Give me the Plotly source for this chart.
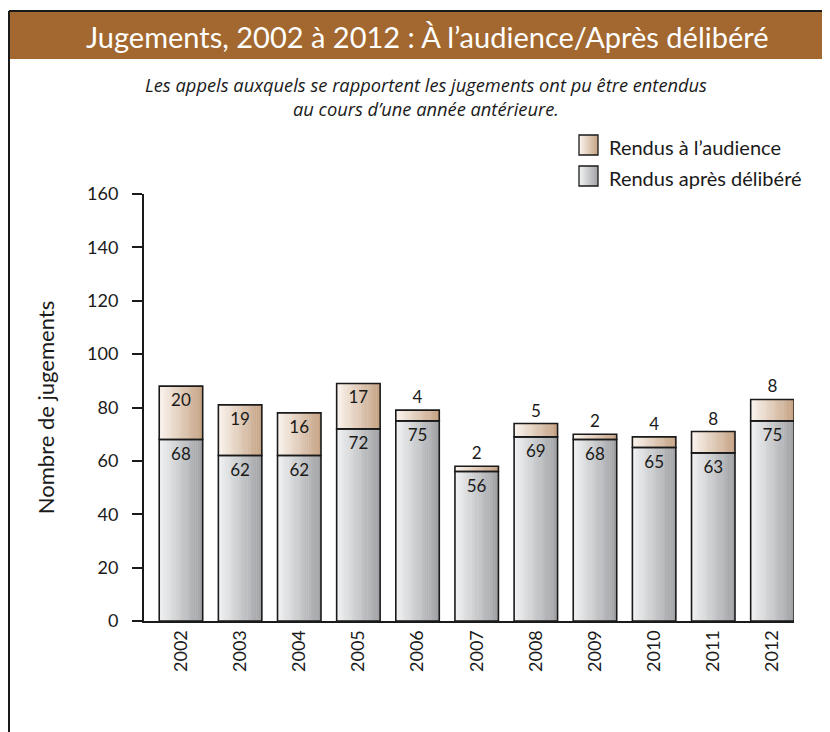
import plotly.graph_objects as go

# ---------------- data ----------------
years = ["2002", "2003", "2004", "2005", "2006", "2007", "2008", "2009", "2010", "2011", "2012"]
apres_delibere = [68, 62, 62, 72, 75, 56, 69, 68, 65, 63, 75]
a_l_audience = [20, 19, 16, 17, 4, 2, 5, 2, 4, 8, 8]
series_names = ["Rendus à l’audience", "Rendus après délibéré"]
y_ticks = [0, 20, 40, 60, 80, 100, 120, 140, 160]
title_text = "Jugements, 2002 à 2012 : À l’audience/Après délibéré"
subtitle_lines = ["Les appels auxquels se rapportent les jugements ont pu être entendus",
                  "au cours d’une année antérieure."]
y_title = "Nombre de jugements"

# ---------------- style ----------------
FONT = "Lato"
INK = "#1a1a1a"
BROWN = "#a2682f"
GRAY0, GRAY1 = (242, 243, 244), (158, 160, 163)
TAN0, TAN1 = (251, 245, 239), (196, 161, 130)
BW = 0.735
NSTRIP = 24

OFF = 8  # page body margin
W, H = 830, 732
# target plot area in page pixels: x 144..794, y 194..621
L = 144 - OFF
T = 194 - OFF
R = W - (794 - OFF)
B = H - (621 - OFF)
PW, PH = W - L - R, H - T - B


def px_x(px):
    return (px - OFF - L) / PW


def px_y(py):
    return (H - B - (py - OFF)) / PH


def lerp(c0, c1, t):
    return "rgb(%d,%d,%d)" % tuple(round(a + (b - a) * t) for a, b in zip(c0, c1))


fig = go.Figure()

# gradient fill made of thin strips
for values, base, c0, c1 in [(apres_delibere, None, GRAY0, GRAY1),
                             (a_l_audience, apres_delibere, TAN0, TAN1)]:
    for k in range(NSTRIP):
        t = (k + 0.5) / NSTRIP
        w = BW / NSTRIP * (1.2 if k < NSTRIP - 1 else 1.0)
        fig.add_bar(x=years, y=values, base=base, width=w,
                    offset=-BW / 2 + k * BW / NSTRIP,
                    marker=dict(color=lerp(c0, c1, t), line=dict(width=0)),
                    showlegend=False, hoverinfo="skip")

# outlines + labels
fig.add_bar(x=years, y=apres_delibere, width=BW, offset=-BW / 2,
            name=series_names[1],
            marker=dict(color="rgba(0,0,0,0)", line=dict(color=INK, width=1.6)),
            text=[str(v) for v in apres_delibere], textposition="inside",
            insidetextanchor="end", textangle=0,
            textfont=dict(family=FONT, size=17, color=INK),
            showlegend=False, cliponaxis=False)
fig.add_bar(x=years, y=a_l_audience, base=apres_delibere, width=BW, offset=-BW / 2,
            name=series_names[0],
            marker=dict(color="rgba(0,0,0,0)", line=dict(color=INK, width=1.6)),
            text=[str(v) for v in a_l_audience],
            textposition=["inside" if v >= 10 else "outside" for v in a_l_audience],
            insidetextanchor="end", textangle=0,
            textfont=dict(family=FONT, size=17, color=INK),
            showlegend=False, cliponaxis=False)

shapes = []
annotations = []

# title band
shapes.append(dict(type="rect", xref="paper", yref="paper",
                   x0=px_x(9), x1=px_x(845), y0=px_y(59), y1=px_y(12),
                   fillcolor=BROWN, line=dict(width=0), layer="below"))
# frame lines
shapes.append(dict(type="line", xref="paper", yref="paper",
                   x0=px_x(9), x1=px_x(845), y0=px_y(11), y1=px_y(11),
                   line=dict(color=INK, width=2)))
shapes.append(dict(type="line", xref="paper", yref="paper",
                   x0=px_x(9), x1=px_x(9), y0=px_y(745), y1=px_y(11),
                   line=dict(color=INK, width=2)))

annotations.append(dict(text=title_text, xref="paper", yref="paper",
                        x=px_x(427), y=px_y(36), xanchor="center", yanchor="middle",
                        showarrow=False, font=dict(family=FONT, size=29, color="white")))
for i, line in enumerate(subtitle_lines):
    annotations.append(dict(text="<i>" + line + "</i>", xref="paper", yref="paper",
                            x=px_x(426), y=px_y(85 + 23 * i), xanchor="center", yanchor="middle",
                            showarrow=False, font=dict(family="Open Sans", size=18.3, color=INK)))

# custom legend with gradient swatches
legend_items = [(series_names[0], TAN0, TAN1, 145), (series_names[1], GRAY0, GRAY1, 176)]
for name, c0, c1, yc in legend_items:
    bx0, bx1 = 579, 598
    by0, by1 = yc - 10, yc + 10
    n = 12
    for k in range(n):
        t = (k + 0.5) / n
        sx0 = bx0 + (bx1 - bx0) * k / n
        sx1 = bx0 + (bx1 - bx0) * (k + 1) / n + 0.4
        shapes.append(dict(type="rect", xref="paper", yref="paper",
                           x0=px_x(sx0), x1=px_x(min(sx1, bx1)), y0=px_y(by1), y1=px_y(by0),
                           fillcolor=lerp(c0, c1, t), line=dict(width=0)))
    shapes.append(dict(type="rect", xref="paper", yref="paper",
                       x0=px_x(bx0), x1=px_x(bx1), y0=px_y(by1), y1=px_y(by0),
                       fillcolor="rgba(0,0,0,0)", line=dict(color=INK, width=1.3)))
    annotations.append(dict(text=name, xref="paper", yref="paper",
                            x=px_x(607), y=px_y(yc + 2), xanchor="left", yanchor="middle",
                            showarrow=False, font=dict(family=FONT, size=20, color=INK)))

fig.update_layout(
    width=W, height=H,
    margin=dict(l=L, r=R, t=T, b=B, pad=0),
    paper_bgcolor="white", plot_bgcolor="white",
    barmode="overlay",
    showlegend=False,
    font=dict(family=FONT, color=INK),
    shapes=shapes,
    annotations=annotations,
    xaxis=dict(type="category", range=[-0.625, 10.365], showline=True, linecolor=INK,
               linewidth=2, ticks="", tickangle=-90, tickfont=dict(size=18, family=FONT),
               showgrid=False, zeroline=False, ticklabelstandoff=0),
    yaxis=dict(range=[0, 160], tickvals=y_ticks, ticks="outside", ticklen=10, tickwidth=2,
               tickcolor=INK, showline=True, linecolor=INK, linewidth=2, showgrid=False,
               zeroline=False, tickfont=dict(size=18, family=FONT), ticklabelstandoff=10,
               title=dict(text=y_title, font=dict(size=22, family=FONT), standoff=26)),
)

fig.write_html("out.html")
